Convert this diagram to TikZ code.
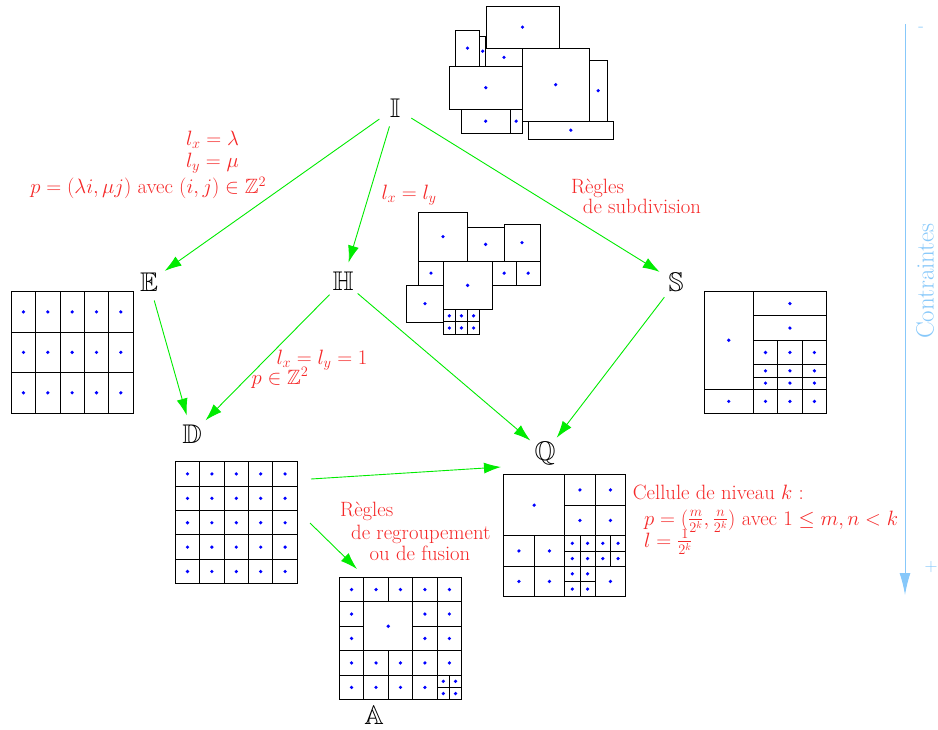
\documentclass[tikz,border=0pt]{standalone}
\usepackage{amssymb}
\usetikzlibrary{arrows.meta}
\definecolor{mred}{RGB}{245,40,40}
\definecolor{mgreen}{RGB}{0,235,0}
\definecolor{mblue}{RGB}{135,200,250}
\definecolor{dotblue}{RGB}{0,0,255}
\newcommand\gc[4]{\draw[cellline] ({#1},{#2}) rectangle ({#3},{#4});
  \fill[dotblue] ({(#1+#3)/2},{(#2+#4)/2}) circle[radius=1.8pt];}
\tikzset{
  cellline/.style={black, line width=0.85pt},
  bb/.style={circle, minimum size=38pt, inner sep=0pt, font=\fontsize{27}{27}\selectfont},
  lab/.style={mred, inner sep=0pt, font=\fontsize{20.7}{24}\selectfont},
  garrow/.style={mgreen, line width=0.9pt, -{Latex[length=17pt,width=11pt]}},
}
\begin{document}
\begin{tikzpicture}[x=1pt,y=-1pt]
\useasboundingbox (0,0) rectangle (938,729);

% ---- I : free rectangles
\gc{486}{6}{559}{48.3}
\gc{455.3}{30}{479.7}{66.3}
\gc{479.7}{36}{485.7}{66.3}
\gc{485.7}{48.3}{522.3}{66.3}
\gc{449.3}{66.3}{522.3}{109}
\gc{522.3}{48.3}{589}{121}
\gc{589}{60.3}{607.3}{121}
\gc{461.3}{109}{510}{133.3}
\gc{510}{109}{522.3}{133.3}
\gc{528.3}{121}{613.3}{139.3}

% ---- H : squares
\gc{418.7}{212.3}{467.3}{261}
\gc{467.3}{227.7}{504}{261}
\gc{504}{224.3}{540}{261}
\gc{418.7}{261}{443.3}{285.3}
\gc{443.3}{261}{492}{309.7}
\gc{492}{261}{516.3}{285.3}
\gc{516.3}{261}{540}{285.3}
\gc{406.7}{285.3}{443.3}{322}
\gc{443.3}{309.7}{455.4}{321.9}
\gc{455.4}{309.7}{467.5}{321.9}
\gc{467.5}{309.7}{479.7}{321.9}
\gc{443.3}{321.9}{455.4}{334}
\gc{455.4}{321.9}{467.5}{334}
\gc{467.5}{321.9}{479.7}{334}

% ---- E : regular grid
\begin{scope}[shift={(11.3,291.7)}, x=24.34pt, y=-40.43pt]
\foreach \i in {0,...,4} \foreach \j in {0,1,2} {\gc{\i}{\j}{\i+1}{\j+1}}
\end{scope}

% ---- D : unit grid
\begin{scope}[shift={(175.3,461.7)}, x=24.4pt, y=-24.4pt]
\foreach \i in {0,...,4} \foreach \j in {0,...,4} {\gc{\i}{\j}{\i+1}{\j+1}}
\end{scope}

% ---- S : subdivision
\begin{scope}[shift={(704.3,291.3)}, x=24.47pt, y=-24.47pt]
\gc{0}{0}{2}{4}
\gc{0}{4}{2}{5}
\gc{2}{0}{5}{1}
\gc{2}{1}{5}{2}
\foreach \i in {2,3,4} {
  \gc{\i}{2}{\i+1}{3}
  \gc{\i}{3}{\i+1}{3.5}
  \gc{\i}{3.5}{\i+1}{4}
  \gc{\i}{4}{\i+1}{5}
}
\end{scope}

% ---- Q : quadtree
\begin{scope}[shift={(503.7,474.7)}, x=30.5pt, y=-30.5pt]
\gc{0}{0}{2}{2}
\gc{2}{0}{3}{1}\gc{3}{0}{4}{1}\gc{2}{1}{3}{2}\gc{3}{1}{4}{2}
\gc{0}{2}{1}{3}\gc{1}{2}{2}{3}\gc{0}{3}{1}{4}\gc{1}{3}{2}{4}
\foreach \a/\b in {2/2,3/2,2/3} {
  \gc{\a}{\b}{\a+0.5}{\b+0.5}
  \gc{\a+0.5}{\b}{\a+1}{\b+0.5}
  \gc{\a}{\b+0.5}{\a+0.5}{\b+1}
  \gc{\a+0.5}{\b+0.5}{\a+1}{\b+1}
}
\gc{3}{3}{4}{4}
\end{scope}

% ---- A : aggregation
\begin{scope}[shift={(339.3,577.3)}, x=24.47pt, y=-24.47pt]
\foreach \i in {0,...,4} {\gc{\i}{0}{\i+1}{1} \gc{\i}{3}{\i+1}{4}}
\gc{0}{1}{1}{2}\gc{0}{2}{1}{3}
\gc{1}{1}{3}{3}
\gc{3}{1}{4}{2}\gc{4}{1}{5}{2}\gc{3}{2}{4}{3}\gc{4}{2}{5}{3}
\foreach \i in {0,...,3} {\gc{\i}{4}{\i+1}{5}}
\gc{4}{4}{4.5}{4.5}\gc{4.5}{4}{5}{4.5}\gc{4}{4.5}{4.5}{5}\gc{4.5}{4.5}{5}{5}
\end{scope}

% ---- labels
\node[bb] (I) at (395,108) {$\mathbb{I}$};
\node[bb] (E) at (149,282) {$\mathbb{E}$};
\node[bb] (H) at (343,281) {$\mathbb{H}$};
\node[bb] (S) at (676,282) {$\mathbb{S}$};
\node[bb] (D) at (192,434) {$\mathbb{D}$};
\node[bb] (Q) at (545,453) {$\mathbb{Q}$};
\node[bb] (A) at (374,715) {$\mathbb{A}$};

\coordinate (dqs) at (311,479);
\coordinate (dqe) at (501,467);
\coordinate (das) at (310,523);
\coordinate (dae) at (357,569);

\draw[garrow] (I) -- (E);
\draw[garrow] (I) -- (H);
\draw[garrow] (I) -- (S);
\draw[garrow] (E) -- (D);
\draw[garrow] (H) -- (D);
\draw[garrow] (H) -- (Q);
\draw[garrow] (S) -- (Q);
\draw[garrow] (dqs) -- (dqe);
\draw[garrow] (das) -- (dae);

\node[lab] (t1) at (212.5,140) {$l_x=\lambda$};
\node[lab] (t2) at (212.5,163) {$l_y=\mu$};
\node[lab] (t3) at (148.3,188) {$p=(\lambda i,\mu j)$ avec $(i,j)\in\mathbb{Z}^2$};
\node[lab] (t4) at (409,195) {$l_x=l_y$};
\node[lab] (t5) at (322,360) {$l_x=l_y=1$};
\node[lab] (t6) at (280,378) {$p\in\mathbb{Z}^2$};
\node[lab] (t7) at (597.5,188) {Règles};
\node[lab] (t8) at (642,206.7) {de subdivision};
\node[lab] (t9) at (366.7,511.7) {Règles};
\node[lab] (t10) at (420.8,534) {de regroupement};
\node[lab] (t11) at (420,553) {ou de fusion};
\node[lab, anchor=base west] (c1) at (632.7,499) {Cellule de niveau $k$ :};
\node[lab, anchor=base west] (c2) at (644,525) {$p=(\frac{m}{2^k},\frac{n}{2^k})$ avec $1\leq m,n<k$};
\node[lab, anchor=base west] (c3) at (644,547) {$l=\frac{1}{2^k}$};

% ---- constraints axis
\coordinate (cs) at (905,24);
\coordinate (ce) at (905,595);
\draw[mblue, line width=1pt, -{Latex[length=22pt,width=11pt]}] (cs) -- (ce);
\node[mblue, rotate=90, inner sep=0pt, font=\fontsize{25}{25}\selectfont] (ct) at (925,281) {Contraintes};
\node[mblue, inner sep=0pt, font=\fontsize{18}{18}\selectfont] (mi) at (921,29) {-};
\node[mblue, inner sep=0pt, font=\fontsize{18}{18}\selectfont] (pl) at (931,567) {+};
\end{tikzpicture}
\end{document}
